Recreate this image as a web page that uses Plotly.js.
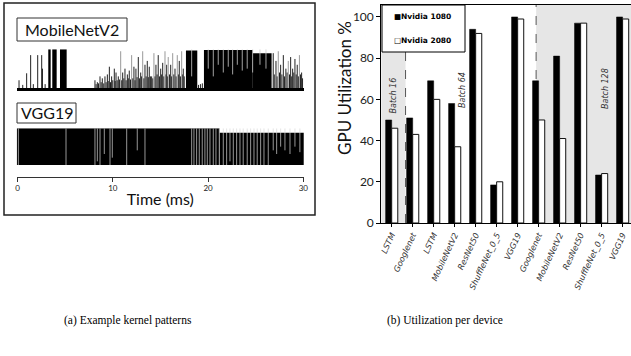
<!DOCTYPE html>
<html><head><meta charset="utf-8">
<script src="https://cdn.plot.ly/plotly-3.0.1.min.js"></script>
<style>html,body{margin:0;padding:0;background:#fff;}#chart{width:631px;height:356px;}</style>
</head><body><div id="chart"></div>
<script>
// ---------- (a) kernel patterns ----------
const timeTicks = [0, 10, 20, 30];

// MobileNetV2: solid kernel blocks (ms) and relative heights
const mbnBlockStart = [3.23, 3.65, 4.46, 17.68, 19.57, 24.7];
const mbnBlockEnd   = [3.48, 4.11, 5.16, 18.87, 24.7, 26.67];
const mbnBlockH     = [1.0, 1.0, 1.0, 0.97, 0.98, 0.9];
// MobileNetV2: dark spikes
const mbnSpikeT = [0.16, 0.55, 0.96, 1.38, 1.66, 2.12, 2.54, 2.62, 2.9,
  8.13, 8.38, 8.66, 8.9, 9.18, 9.43, 9.64, 9.88, 10.16, 10.34, 10.58, 11.04, 11.28, 11.53, 11.73,
  12.22, 12.43, 12.68, 12.93, 13.38, 13.62, 13.83, 14.08, 14.53, 14.77, 15.03, 15.24, 15.66,
  16.08, 16.53, 16.98, 17.4,
  8.25, 8.5, 8.78, 9.05, 9.3, 9.52, 9.76, 10.0, 10.25, 10.46, 10.7, 10.93, 11.16, 11.4, 11.63,
  11.86, 12.1, 12.33, 12.55, 12.8, 13.03, 13.26, 13.5, 13.73, 13.95, 14.2, 14.42, 14.65, 14.9,
  15.13, 15.36, 15.57, 15.75, 15.95, 16.18, 16.4, 16.65, 16.88, 17.1, 17.3, 17.5,
  19.0, 19.2, 19.4,
  26.84, 27.13, 27.62, 27.9, 28.17, 28.67, 28.88, 29.12, 29.36, 29.82,
  26.95, 27.25, 27.5, 27.75, 28.03, 28.3, 28.55, 28.78, 29.0, 29.25, 29.48, 29.7, 29.92];
const mbnSpikeH = [0.2, 0.08, 0.38, 0.85, 0.1, 0.85, 0.85, 0.5, 0.1,
  0.2, 0.15, 0.3, 0.25, 0.3, 0.35, 0.55, 0.3, 0.5, 0.4, 0.3, 0.4, 0.5, 0.35, 0.45,
  0.55, 0.5, 0.8, 0.4, 0.6, 0.7, 0.55, 0.3, 0.6, 0.85, 0.5, 0.65, 0.6,
  0.6, 0.5, 0.7, 0.5,
  0.1, 0.12, 0.15, 0.12, 0.15, 0.18, 0.15, 0.2, 0.18, 0.2, 0.22, 0.2, 0.25, 0.2, 0.25,
  0.22, 0.25, 0.2, 0.28, 0.25, 0.3, 0.25, 0.3, 0.28, 0.3, 0.25, 0.3, 0.35, 0.3,
  0.35, 0.3, 0.35, 0.3, 0.35, 0.3, 0.35, 0.3, 0.35, 0.3, 0.35, 0.3,
  0.08, 0.1, 0.12,
  0.9, 0.7, 0.6, 0.85, 0.5, 0.8, 0.5, 0.75, 0.6, 0.4,
  0.35, 0.3, 0.4, 0.35, 0.3, 0.4, 0.35, 0.3, 0.4, 0.35, 0.3, 0.35, 0.25];
// MobileNetV2: light (grey) spikes
const mbnLightT = [10.83, 11.98, 13.14, 14.32, 15.48, 15.82, 16.29, 16.77, 17.23, 27.37, 28.42, 29.59];
const mbnLightH = [0.95, 0.85, 0.95, 0.9, 0.95, 0.8, 0.9, 0.85, 0.95, 0.95, 0.7, 0.85];
// MobileNetV2: idle gaps inside the solid blocks (gap from level to top)
const mbnGapT = [18.28, 20.02, 20.55, 21.07, 21.6, 22.12, 22.58, 23.07, 23.59, 24.11, 24.68, 25.45, 26.08];
const mbnGapB = [0.3, 0.5, 0.3, 0.6, 0.4, 0.55, 0.35, 0.6, 0.45, 0.5, 0.4, 0.6, 0.5];

// VGG19: solid kernel blocks and idle gaps
const vggBlockStart = [-0.08, 21.2];
const vggBlockEnd   = [21.2, 30.06];
const vggBlockH     = [1.0, 0.88];
const vggGapT = [0.09, 5.09, 8.13, 8.38, 8.66, 9.11, 9.71, 9.95, 11.46, 12.57, 13.38,
  18.28, 18.52, 18.8, 19.08, 19.39, 19.67, 19.92, 20.2, 20.55, 20.83, 21.18, 21.6, 21.95, 22.3,
  22.65, 23.0, 23.35, 23.69, 24.11, 24.47, 24.82, 25.16, 25.52, 25.87, 26.32,
  26.84, 27.2, 27.62, 28.07, 28.6, 29.12, 29.64];
const vggGapB = [0, 0, 0, 0.1, 0, 0.3, 0, 0.2, 0, 0.4, 0,
  0, 0, 0, 0, 0, 0, 0, 0, 0, 0, 0, 0, 0, 0.1,
  0, 0, 0, 0, 0, 0, 0, 0, 0, 0, 0,
  0.4, 0.3, 0.5, 0.4, 0.3, 0.5, 0.35];

// ---------- (b) utilization per device ----------
const categories = ['LSTM', 'Googlenet', 'LSTM', 'MobileNetV2', 'ResNet50', 'ShuffleNet_0_5', 'VGG19',
  'Googlenet', 'MobileNetV2', 'ResNet50', 'ShuffleNet_0_5', 'VGG19'];
const gpu1080 = [50, 51, 69, 58, 94, 18.5, 100, 69, 81, 97, 23.3, 100];
const gpu2080 = [46, 43, 60, 37, 92, 20, 99, 50, 41, 97, 24, 99];
const seriesNames = ['Nvidia 1080', 'Nvidia 2080'];
const batchLabels = ['Batch 16', 'Batch 64', 'Batch 128'];
const yTicks = [0, 20, 40, 60, 80, 100];

// helpers
function segs(ts, lo, hi) {
  const x = [], y = [];
  ts.forEach((t, i) => { x.push(t, t, null); y.push(Array.isArray(lo) ? lo[i] : lo, Array.isArray(hi) ? hi[i] : hi, null); });
  return {x, y};
}
function blocks(s, e, h, xa, ya, name) {
  return {type: 'bar', xaxis: xa, yaxis: ya, name: name, showlegend: false, hoverinfo: 'skip',
    x: s.map((v, i) => (v + e[i]) / 2), width: s.map((v, i) => e[i] - v), y: h, base: 0,
    marker: {color: '#000', line: {width: 0}}};
}
const mbnDark = segs(mbnSpikeT, 0, mbnSpikeH);
const mbnLight = segs(mbnLightT, 0, mbnLightH);
const mbnGap = segs(mbnGapT, mbnGapB, 1);
const vggGap = segs(vggGapT, vggGapB, 1);

const idx = categories.map((c, i) => i);
const traces = [
  blocks(mbnBlockStart, mbnBlockEnd, mbnBlockH, 'x2', 'y2', 'MobileNetV2 kernels'),
  {type: 'scatter', mode: 'lines', xaxis: 'x2', yaxis: 'y2', x: mbnDark.x, y: mbnDark.y, line: {color: '#222', width: 1}, showlegend: false, hoverinfo: 'skip', name: 'MobileNetV2 spikes'},
  {type: 'scatter', mode: 'lines', xaxis: 'x2', yaxis: 'y2', x: mbnLight.x, y: mbnLight.y, line: {color: '#999', width: 1}, showlegend: false, hoverinfo: 'skip', name: 'MobileNetV2 light'},
  {type: 'scatter', mode: 'lines', xaxis: 'x2', yaxis: 'y2', x: mbnGap.x, y: mbnGap.y, line: {color: '#ccc', width: 0.8}, showlegend: false, hoverinfo: 'skip', name: 'MobileNetV2 gaps'},
  blocks(vggBlockStart, vggBlockEnd, vggBlockH, 'x3', 'y3', 'VGG19 kernels'),
  {type: 'scatter', mode: 'lines', xaxis: 'x3', yaxis: 'y3', x: vggGap.x, y: vggGap.y, line: {color: '#d8d8d8', width: 0.7}, showlegend: false, hoverinfo: 'skip', name: 'VGG19 gaps'},
  {type: 'bar', name: seriesNames[0], x: idx, y: gpu1080, marker: {color: '#000', line: {color: '#000', width: 0.5}}, showlegend: false},
  {type: 'bar', name: seriesNames[1], x: idx, y: gpu2080, marker: {color: '#fff', line: {color: '#111', width: 1}}, showlegend: false}
];

const PW = 631, PH = 356;
const px = v => v / PW, py = v => 1 - v / PH;
const calib = 'Lato, "Open Sans", sans-serif';

const layout = {
  width: PW, height: PH, margin: {l: 0, r: 0, t: 0, b: 0},
  paper_bgcolor: '#fff', plot_bgcolor: 'rgba(0,0,0,0)',
  barmode: 'group', bargap: 0.42, bargroupgap: 0,
  showlegend: false,
  // right chart
  xaxis: {domain: [px(381.2), 1], range: [-0.5, 11.4], anchor: 'y', automargin: false,
    tickmode: 'array', tickvals: idx, ticktext: categories.map(c => '<i>' + c + '</i>'),
    tickangle: -65, tickfont: {family: 'DejaVu Sans', size: 8.2, color: '#333'},
    ticks: 'outside', ticklen: 3, tickcolor: '#000',
    showline: true, linecolor: '#000', linewidth: 1, mirror: true, showgrid: false, zeroline: false},
  yaxis: {domain: [py(223), py(5)], range: [0, 105.8], anchor: 'x', automargin: false,
    tickmode: 'array', tickvals: yTicks, ticks: 'outside', ticklen: 4, tickcolor: '#000',
    tickfont: {family: calib, size: 12, color: '#222'},
    showline: true, linecolor: '#000', linewidth: 1, showgrid: false, zeroline: false},
  // left: MobileNetV2
  xaxis2: {domain: [px(16.74), px(303.8)], range: [-0.08, 30.05], anchor: 'y2', automargin: false,
    showticklabels: false, ticks: '', showline: true, linecolor: '#000', linewidth: 2.5,
    showgrid: false, zeroline: false},
  yaxis2: {domain: [py(88), py(49.3)], range: [0, 1], anchor: 'x2', visible: false},
  // left: VGG19 with time axis
  xaxis3: {domain: [px(16.74), px(303.8)], range: [-0.08, 30.05], anchor: 'y3', automargin: false,
    tickmode: 'array', tickvals: timeTicks, ticks: 'outside', ticklen: 4, tickcolor: '#333',
    tickfont: {family: calib, size: 8, color: '#222'},
    showline: true, linecolor: '#333', linewidth: 1, showgrid: false, zeroline: false,
    title: {text: 'Time (ms)', font: {family: calib, size: 16, color: '#111'}, standoff: 1}},
  yaxis3: {domain: [py(176.5), py(128.3)], range: [-0.313, 1], anchor: 'x3', visible: false},
  shapes: [
    // batch shading
    {type: 'rect', xref: 'x', yref: 'y domain', x0: -0.5, x1: 0.66, y0: 0, y1: 1, fillcolor: '#e6e6e6', line: {width: 0}, layer: 'below'},
    {type: 'rect', xref: 'x', yref: 'y domain', x0: 6.88, x1: 11.6, y0: 0, y1: 1, fillcolor: '#e6e6e6', line: {width: 0}, layer: 'below'},
    {type: 'line', xref: 'x', yref: 'y domain', x0: 0.66, x1: 0.66, y0: 0, y1: 1, line: {color: '#555', width: 1, dash: 'dash'}, layer: 'below'},
    {type: 'line', xref: 'x', yref: 'y domain', x0: 6.88, x1: 6.88, y0: 0, y1: 1, line: {color: '#555', width: 1, dash: 'dash'}, layer: 'below'},
    // legend box
    {type: 'rect', xref: 'paper', yref: 'paper', x0: px(382), x1: px(465), y0: py(52), y1: py(5), fillcolor: '#fff', line: {color: '#000', width: 1}, layer: 'above'},
    // left panel frame
    {type: 'rect', xref: 'paper', yref: 'paper', x0: px(4), x1: px(315), y0: py(215), y1: py(3), line: {color: '#222', width: 1.5}, fillcolor: 'rgba(0,0,0,0)'},
    // label boxes
    {type: 'rect', xref: 'paper', yref: 'paper', x0: px(17), x1: px(127), y0: py(41), y1: py(18), line: {color: '#333', width: 1}},
    {type: 'rect', xref: 'paper', yref: 'paper', x0: px(17), x1: px(76), y0: py(123), y1: py(103), line: {color: '#333', width: 1}}
  ],
  annotations: [
    {xref: 'paper', yref: 'paper', x: px(72), y: py(29.5), text: 'MobileNetV2', showarrow: false, xanchor: 'center', yanchor: 'middle', font: {family: calib, size: 16, color: '#111'}},
    {xref: 'paper', yref: 'paper', x: px(46.5), y: py(113), text: 'VGG19', showarrow: false, xanchor: 'center', yanchor: 'middle', font: {family: calib, size: 16, color: '#111'}},
    {xref: 'paper', yref: 'paper', x: px(345), y: py(88), text: 'GPU Utilization %', textangle: -90, showarrow: false, xanchor: 'center', yanchor: 'middle', font: {family: calib, size: 17, color: '#111'}},
    {xref: 'paper', yref: 'paper', x: px(392), y: py(17), text: '<b>■' + seriesNames[0] + '</b>', showarrow: false, xanchor: 'left', yanchor: 'middle', font: {family: 'DejaVu Sans', size: 7.5, color: '#000'}},
    {xref: 'paper', yref: 'paper', x: px(392), y: py(40), text: '<b>□' + seriesNames[1] + '</b>', showarrow: false, xanchor: 'left', yanchor: 'middle', font: {family: 'DejaVu Sans', size: 7.5, color: '#000'}},
    {xref: 'x', yref: 'y', x: 0.07, y: 62, text: '<i>' + batchLabels[0] + '</i>', textangle: -90, showarrow: false, font: {family: 'DejaVu Sans', size: 8, color: '#333'}},
    {xref: 'x', yref: 'y', x: 3.34, y: 64.5, text: '<i>' + batchLabels[1] + '</i>', textangle: -90, showarrow: false, font: {family: 'DejaVu Sans', size: 8, color: '#333'}},
    {xref: 'x', yref: 'y', x: 10.16, y: 65.5, text: '<i>' + batchLabels[2] + '</i>', textangle: -90, showarrow: false, font: {family: 'DejaVu Sans', size: 8, color: '#333'}},
    {xref: 'paper', yref: 'paper', x: px(128), y: py(320), text: '(a) Example kernel patterns', showarrow: false, xanchor: 'center', yanchor: 'middle', font: {family: '"Liberation Serif", serif', size: 11.5, color: '#000'}},
    {xref: 'paper', yref: 'paper', x: px(445), y: py(320), text: '(b) Utilization per device', showarrow: false, xanchor: 'center', yanchor: 'middle', font: {family: '"Liberation Serif", serif', size: 11.5, color: '#000'}}
  ]
};

Plotly.newPlot('chart', traces, layout, {staticPlot: true, displayModeBar: false});
</script>
</body></html>
